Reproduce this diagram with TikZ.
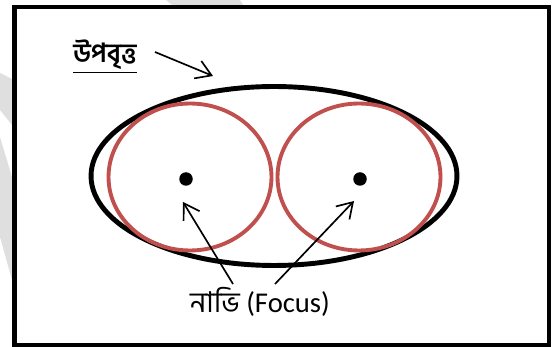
\documentclass[tikz,border=0pt]{standalone}
\usepackage{fontspec}
\setmainfont{Carlito}
\newfontfamily\bangla[Script=Bengali]{Hind Siliguri}
\usetikzlibrary{shapes.geometric, arrows.meta, positioning}
\definecolor{ringred}{HTML}{C0504D}

\begin{document}
\begin{tikzpicture}[x=0.02cm, y=-0.02cm,
    frame/.style={draw=black, line width=2.8pt},
    watermark/.style={fill=gray!25, draw=none},
    outline/.style={ellipse, draw=black, line width=2.8pt, inner sep=0pt, minimum width=7.32cm, minimum height=3.58cm},
    ring/.style={ellipse, draw=ringred, line width=2.2pt, inner sep=0pt, minimum width=3.26cm, minimum height=2.94cm},
    focusdot/.style={circle, fill=black, inner sep=0pt, minimum size=0.27cm},
    caption/.style={font=\fontsize{16.3}{19}\selectfont, inner sep=0pt},
    arrow/.style={-{Straight Barb[length=8.5pt, width=10.7pt]}, line width=0.95pt}
]
    \useasboundingbox (0,0) rectangle (554,347);
    \fill[watermark] (0,73) -- (12,79) -- (12,125) -- (0,110) -- cycle;
    \fill[watermark] (0,137) -- (12,177) -- (12,280) -- (0,237) -- cycle;
    \fill[watermark] (166,0) -- (240,0) -- (243,5) -- (172,5) -- cycle;
    \draw[frame] (14.5,7) rectangle (549,345);

    \node[outline] (ellipse) at (274,176) {};
    \node[ring] (leftring) at (190,177) {};
    \node[ring] (rightring) at (359,177) {};
    \node[focusdot] (f1) at (186,179) {};
    \node[focusdot] (f2) at (360,179) {};

    \node[caption, anchor=base, font=\fontsize{15}{18}\selectfont] (name) at (105,63) {\bangla\bfseries\underline{উপবৃত্ত}};
    \node[caption, anchor=base] (focus) at (260,313) {{\bangla নাভি}\ (Focus)};

    \coordinate (t0) at (155,52);
    \coordinate (t1) at (213,76);
    \coordinate (a1) at (233,284);
    \coordinate (b1) at (183,202);
    \coordinate (a2) at (275,284);
    \coordinate (b2) at (354,201);

    \draw[arrow] (t0) -- (t1);
    \draw[arrow] (a1) -- (b1);
    \draw[arrow] (a2) -- (b2);
\end{tikzpicture}
\end{document}
